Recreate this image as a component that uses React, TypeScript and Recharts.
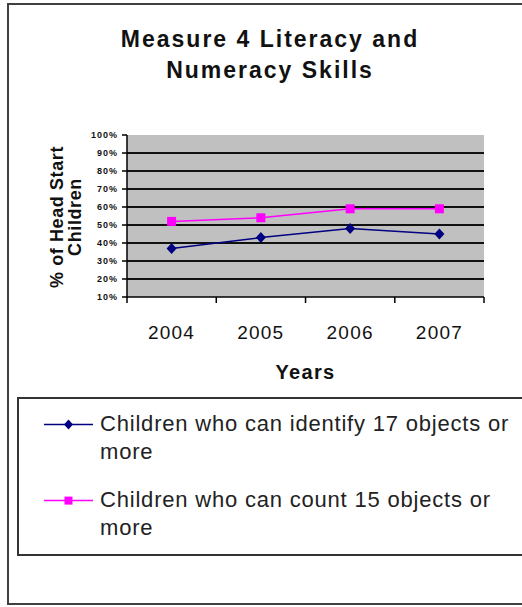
import React from 'react';
import { LineChart, Line, XAxis, YAxis, CartesianGrid } from 'recharts';

const years = ['2004', '2005', '2006', '2007'];
const identifyPct = [37, 43, 48, 45];
const countPct = [52, 54, 59, 59];
const yTicks = [10, 20, 30, 40, 50, 60, 70, 80, 90, 100];
const gridValues = [20, 30, 40, 50, 60, 70, 80, 90];

const identifyName = 'Children who can identify 17 objects or more';
const countName = 'Children who can count 15 objects or more';

const NAVY = '#000080';
const PINK = '#ff00ff';
const FONT = '"Liberation Sans", Arial, sans-serif';

const chartData = years.map((year, i) => ({
  year,
  identify: identifyPct[i],
  count: countPct[i],
}));

// half of one category band, for the Excel-style boundary ticks
const HALF_BAND = 44.6;

const Diamond = (props: any) => {
  const { cx, cy } = props;
  if (cx == null || cy == null) return null;
  return <path d={`M${cx},${cy - 5.5}L${cx + 5},${cy}L${cx},${cy + 5.5}L${cx - 5},${cy}Z`} fill={NAVY} />;
};

const Square = (props: any) => {
  const { cx, cy } = props;
  if (cx == null || cy == null) return null;
  return <rect x={cx - 4.5} y={cy - 4.5} width={9} height={9} fill={PINK} />;
};

const YearTick = (props: any) => {
  const { x, y, payload, index } = props;
  const last = index === years.length - 1;
  return (
    <g>
      <line x1={x - HALF_BAND} y1={y - 8} x2={x - HALF_BAND} y2={y - 2} stroke="#000" strokeWidth={1.5} />
      {last && <line x1={x + HALF_BAND} y1={y - 8} x2={x + HALF_BAND} y2={y - 2} stroke="#000" strokeWidth={1.5} />}
      <text x={x} y={y + 34} textAnchor="middle" fontSize={19} fontFamily={FONT} fill="#111" letterSpacing={1.2}>
        {payload.value}
      </text>
    </g>
  );
};

const YTitle = () => {
  const cy = 217;
  return (
    <g fontFamily={FONT} fontWeight="bold" fontSize={18} fill="#111" letterSpacing={0.6}>
      <text x={63} y={cy} textAnchor="middle" transform={`rotate(-90, 63, ${cy})`}>% of Head Start</text>
      <text x={80.5} y={cy} textAnchor="middle" transform={`rotate(-90, 80.5, ${cy})`}>Children</text>
    </g>
  );
};

const legendItems = [
  { name: identifyName, color: NAVY, marker: 'diamond' },
  { name: countName, color: PINK, marker: 'square' },
];

const LegendBox = () => (
  <div
    style={{
      position: 'absolute',
      left: 17,
      top: 397,
      width: 510,
      height: 155,
      borderTop: '2px solid #333',
      borderBottom: '2px solid #333',
      borderLeft: '2px solid #333',
      fontFamily: FONT,
      background: '#fff',
    }}
  >
    {legendItems.map((it, i) => (
      <div key={it.name} style={{ position: 'absolute', left: 0, top: 11.4 + i * 76 }}>
        <svg width={60} height={30} style={{ position: 'absolute', left: 24, top: 0 }}>
          <line x1={1} y1={14.6} x2={50} y2={14.6} stroke={it.color} strokeWidth={1.5} />
          {it.marker === 'diamond' ? (
            <path d="M25.5,9.6L30,14.6L25.5,19.6L21,14.6Z" fill={it.color} />
          ) : (
            <rect x={21.5} y={10.6} width={8} height={8} fill={it.color} />
          )}
        </svg>
        <div
          style={{
            position: 'absolute',
            left: 81,
            top: 0,
            width: 420,
            fontSize: 22,
            lineHeight: '28px',
            letterSpacing: 0.8,
            color: '#222',
            textAlign: 'left',
          }}
        >
          {it.name}
        </div>
      </div>
    ))}
  </div>
);

export default function App() {
  return (
    <div style={{ position: 'absolute', left: 0, top: 0, width: 522, height: 607, overflow: 'hidden', background: '#fff' }}>
      <div
        style={{
          position: 'absolute',
          left: 7,
          top: 3,
          width: 530,
          height: 598,
          borderTop: '2px solid #404040',
          borderBottom: '2px solid #404040',
          borderLeft: '2px solid #404040',
        }}
      />
      <div
        style={{
          position: 'absolute',
          left: 70,
          top: 23.5,
          width: 400,
          textAlign: 'center',
          fontFamily: FONT,
          fontWeight: 'bold',
          fontSize: 23,
          lineHeight: '31px',
          letterSpacing: 2,
          color: '#111',
        }}
      >
        Measure 4 Literacy and
        <br />
        Numeracy Skills
      </div>
      <div style={{ position: 'absolute', left: 0, top: 0 }}>
        <LineChart
          width={522}
          height={607}
          data={chartData}
          margin={{ top: 135, right: 38, left: 67, bottom: 225 }}
        >
          <CartesianGrid
            horizontal
            vertical={false}
            horizontalValues={gridValues}
            stroke="#111"
            strokeWidth={1.8}
            fill="#c0c0c0"
            fillOpacity={1}
          />
          <XAxis
            dataKey="year"
            padding={{ left: HALF_BAND, right: HALF_BAND }}
            height={85}
            axisLine={{ stroke: '#000', strokeWidth: 1.5 }}
            tickLine={false}
            tick={<YearTick />}
            interval={0}
            label={{
              value: 'Years',
              position: 'insideBottom',
              offset: 3,
              style: { fontFamily: FONT, fontWeight: 'bold', fontSize: 20, fill: '#111', letterSpacing: 1.3 },
            }}
          />
          <XAxis
            xAxisId="top"
            dataKey="year"
            orientation="top"
            height={0}
            tick={false}
            tickLine={false}
            axisLine={{ stroke: '#808080', strokeWidth: 1.5 }}
          />
          <YAxis
            domain={[10, 100]}
            ticks={yTicks}
            width={60}
            interval={0}
            allowDataOverflow
            axisLine={{ stroke: '#000', strokeWidth: 1.5 }}
            tickLine={{ stroke: '#000', strokeWidth: 1.5 }}
            tickSize={5}
            tickMargin={4}
            tickFormatter={(v: number) => `${v}%`}
            tick={{ fontFamily: FONT, fontWeight: 'bold', fontSize: 9, fill: '#111', letterSpacing: 1 }}
            label={<YTitle />}
          />
          <YAxis
            yAxisId="right"
            orientation="right"
            domain={[10, 100]}
            width={0}
            tick={false}
            tickLine={false}
            axisLine={{ stroke: '#808080', strokeWidth: 1.5 }}
          />
          <Line
            type="linear"
            dataKey="identify"
            name={identifyName}
            stroke={NAVY}
            strokeWidth={1.5}
            dot={<Diamond />}
            activeDot={false}
            isAnimationActive={false}
          />
          <Line
            type="linear"
            dataKey="count"
            name={countName}
            stroke={PINK}
            strokeWidth={1.5}
            dot={<Square />}
            activeDot={false}
            isAnimationActive={false}
          />
        </LineChart>
      </div>
      <LegendBox />
    </div>
  );
}
